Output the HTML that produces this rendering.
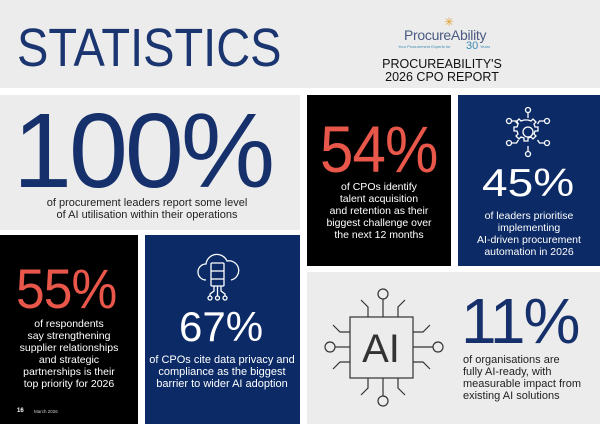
<!DOCTYPE html>
<html><head><meta charset="utf-8"><style>
*{margin:0;padding:0;box-sizing:border-box}
body{width:600px;height:424px;background:#fff;position:relative;overflow:hidden;font-family:"Liberation Sans",sans-serif}
.b{position:absolute}
.g{background:#ececec}.k{background:#000}.n{background:#0b2a66}
.num{position:absolute;line-height:1;white-space:nowrap;font-weight:400;transform-origin:left top}
.cap{position:absolute;font-size:10.5px;line-height:12px;white-space:nowrap}
.c{text-align:center;transform:translateX(-50%)}
</style></head><body>
<div class="b g" style="left:0;top:0;width:600px;height:88px"></div>
<div class="b g" style="left:0;top:95px;width:300px;height:135px"></div>
<div class="b k" style="left:307px;top:95px;width:144px;height:171px"></div>
<div class="b n" style="left:458px;top:95px;width:142px;height:171px"></div>
<div class="b k" style="left:0;top:235px;width:138px;height:189px"></div>
<div class="b n" style="left:145px;top:235px;width:155px;height:189px"></div>
<div class="b g" style="left:307px;top:272px;width:293px;height:152px"></div>

<div class="num" style="left:17px;top:21px;font-size:54px;color:#1a3570;transform:scaleX(0.87)">STATISTICS</div>
<div class="b" style="left:404px;top:27px;font-size:14px;color:#4a5a80;letter-spacing:-0.3px">ProcureAbility</div>
<div class="b" style="left:444px;top:15px;font-size:12px;color:#e0a030">✳</div>
<div class="b" style="left:398px;top:44px;font-size:4px;color:#3a8ab0">Your Procurement Experts for</div>
<div class="b" style="left:466px;top:40px;font-size:11px;color:#3a8ab0">30</div>
<div class="b" style="left:480px;top:44px;font-size:4px;color:#3a8ab0">Years</div>
<div class="b c" style="left:442px;top:58px;font-size:12.5px;line-height:13px;color:#111">PROCUREABILITY'S<br>2026 CPO REPORT</div>

<div class="num" style="left:13px;top:98px;font-size:106px;color:#15306b;letter-spacing:-3px">100%</div>
<div class="cap c" style="left:147px;top:197px;color:#222;font-size:11px">of procurement leaders report some level<br>of AI utilisation within their operations</div>

<div class="num" style="left:320px;top:116px;font-size:66px;color:#e8574a;letter-spacing:-1px;transform:scaleX(0.91)">54%</div>
<div class="cap c" style="left:379px;top:181px;color:#fff">of CPOs identify<br>talent acquisition<br>and retention as their<br>biggest challenge over<br>the next 12 months</div>

<svg class="b" style="left:504px;top:106px" width="48" height="52" viewBox="0 0 48 52" fill="none" stroke="#fff" stroke-width="1.3">
<circle cx="24" cy="26" r="5"/><path d="M24 14l3 1 2-2 3 3-2 2 1 3 3 0 0 4-3 0-1 3 2 2-3 3-2-2-3 1 0 3-4 0 0-3-3-1-2 2-3-3 2-2-1-3-3 0 0-4 3 0 1-3-2-2 3-3 2 2 3-1z"/>
<circle cx="24" cy="4" r="2.5"/><line x1="24" y1="6.5" x2="24" y2="12"/>
<circle cx="24" cy="48" r="2.5"/><line x1="24" y1="40" x2="24" y2="45.5"/>
<circle cx="5" cy="15" r="2.5"/><circle cx="43" cy="15" r="2.5"/><circle cx="5" cy="37" r="2.5"/><circle cx="43" cy="37" r="2.5"/>
<path d="M7.5 15h5l2 3M40.5 15h-5l-2 3M7.5 37h5l2-3M40.5 37h-5l-2-3"/></svg>
<div class="num" style="left:482px;top:164px;font-size:39px;color:#fff;transform:scaleX(1.18)">45%</div>
<div class="cap c" style="left:529px;top:210px;color:#fff">of leaders prioritise<br>implementing<br>AI-driven procurement<br>automation in 2026</div>

<div class="num" style="left:16px;top:261px;font-size:56px;color:#e8574a;letter-spacing:-1px;transform:scaleX(0.92)">55%</div>
<div class="cap c" style="left:69px;top:318px;color:#fff">of respondents<br>say strengthening<br>supplier relationships<br>and strategic<br>partnerships is their<br>top priority for 2026</div>
<div class="b" style="left:17px;top:408px;font-size:6px;color:#fff;font-weight:bold">16</div>
<div class="b" style="left:34px;top:409px;font-size:4.5px;color:#ccc">March 2026</div>

<svg class="b" style="left:194px;top:250px" width="48" height="52" viewBox="0 0 44 52" fill="none" stroke="#fff" stroke-width="1.3">
<path d="M10 30a8 8 0 0 1 0-16 11 11 0 0 1 21-3 9 9 0 0 1 4 19"/>
<rect x="15" y="13" width="13" height="23" rx="1"/><line x1="15" y1="21" x2="28" y2="21"/><line x1="15" y1="29" x2="28" y2="29"/>
<line x1="21.5" y1="36" x2="21.5" y2="46"/><path d="M18 36v5l-4 3v2M25 36v5l4 3v2"/>
<circle cx="14" cy="48" r="2"/><circle cx="21.5" cy="48" r="2"/><circle cx="29" cy="48" r="2"/></svg>
<div class="num" style="left:179px;top:306px;font-size:42px;color:#fff">67%</div>
<div class="cap c" style="left:222px;top:354px;color:#fff;font-size:11px">of CPOs cite data privacy and<br>compliance as the biggest<br>barrier to wider AI adoption</div>

<svg class="b" style="left:318px;top:282px" width="130" height="130" viewBox="0 0 130 130" fill="none" stroke="#333" stroke-width="1.2">
<rect x="32" y="35" width="63" height="61"/>
<circle cx="65" cy="12" r="5"/><line x1="65" y1="17" x2="65" y2="35"/>
<circle cx="65" cy="119" r="5"/><line x1="65" y1="96" x2="65" y2="114"/>
<circle cx="12" cy="65" r="5"/><line x1="17" y1="65" x2="32" y2="65"/>
<circle cx="120" cy="65" r="5"/><line x1="95" y1="65" x2="115" y2="65"/>
<path d="M50 35V25l-7-7M80 35V25l7-7M50 96v10l-7 7M80 96v10l7 7M32 50H22l-7-7M32 80H22l-7 7M95 50h10l7-7M95 80h10l7 7"/>
<text x="63" y="80" font-family="Liberation Sans" font-size="40" fill="#333" stroke="none" text-anchor="middle">AI</text></svg>
<div class="num" style="left:461px;top:289px;font-size:64px;color:#15306b;letter-spacing:-2px">11%</div>
<div class="cap" style="left:463px;top:354px;color:#222;font-size:11px">of organisations are<br>fully AI-ready, with<br>measurable impact from<br>existing AI solutions</div>
</body></html>
